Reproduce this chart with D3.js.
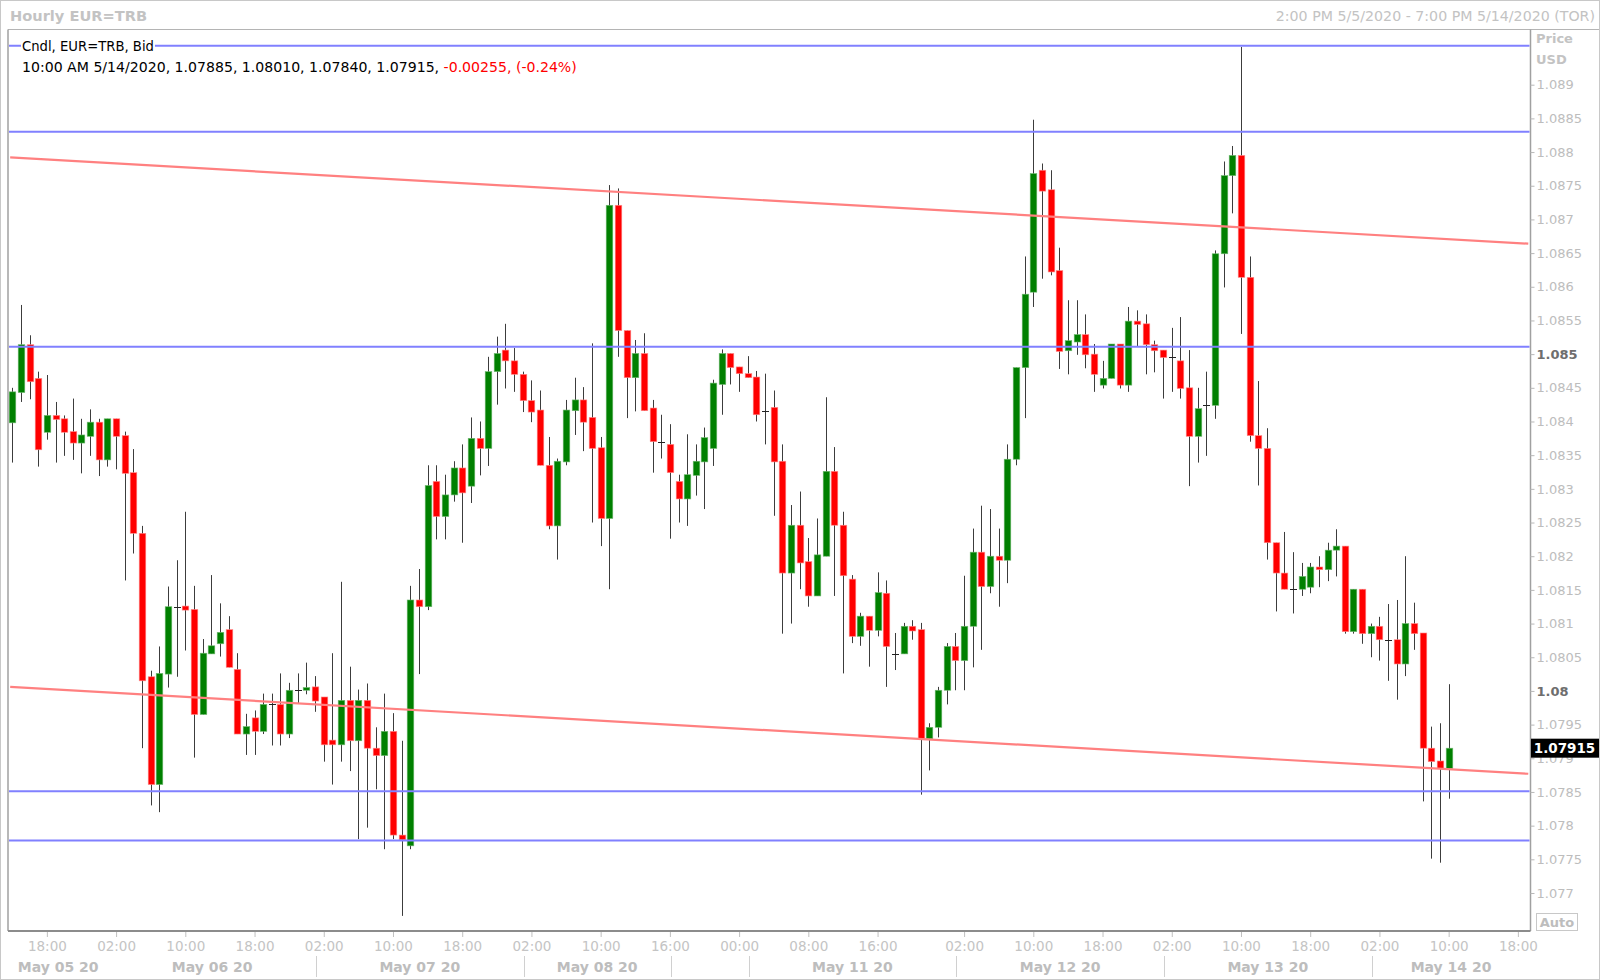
<!DOCTYPE html>
<html><head><meta charset="utf-8">
<script src="https://cdn.jsdelivr.net/npm/d3@7"></script>
<style>
body{margin:0;background:#fff}
svg{display:block}
text{font-family:"DejaVu Sans",Verdana,sans-serif}
</style>
</head><body>
<svg id="c" width="1600" height="980"></svg>
<script>
// ---- data (hourly bars, Toronto time, 5/5/2020 14:00 .. 5/14/2020 10:00) ----
const openP = [1.08398,1.08443,1.08514,1.08464,1.08384,1.08409,1.08404,1.08385,1.08368,1.08378,
1.08399,1.08343,1.08404,1.08379,1.08324,1.08234,1.08021,1.07861,1.08025,1.08125,
1.08126,1.08121,1.07965,1.08055,1.08070,1.08091,1.08032,1.07936,1.07960,1.07940,
1.07980,1.07980,1.07936,1.08001,1.08001,1.08006,1.07991,1.07927,1.07920,1.07986,
1.07926,1.07986,1.07915,1.07904,1.07940,1.07786,1.07770,1.08135,1.08125,1.08311,
1.08259,1.08291,1.08331,1.08304,1.08375,1.08360,1.08474,1.08506,1.08490,1.08470,
1.08431,1.08417,1.08335,1.08245,1.08340,1.08416,1.08432,1.08406,1.08361,1.08256,
1.08721,1.08535,1.08465,1.08501,1.08420,1.08370,1.08366,1.08311,1.08285,1.08320,
1.08340,1.08360,1.08455,1.08501,1.08481,1.08471,1.08466,1.08416,1.08421,1.08341,
1.08175,1.08246,1.08192,1.08141,1.08200,1.08326,1.08246,1.08166,1.08081,1.08111,
1.08090,1.08145,1.08055,1.08055,1.08096,1.08091,1.07929,1.07946,1.08001,1.08066,
1.08045,1.08096,1.08206,1.08155,1.08200,1.08194,1.08344,1.08480,1.08592,1.08773,
1.08744,1.08624,1.08505,1.08518,1.08529,1.08500,1.08454,1.08464,1.08515,1.08454,
1.08549,1.08545,1.08514,1.08506,1.08496,1.08490,1.08450,1.08378,1.08424,1.08424,
1.08649,1.08765,1.08795,1.08614,1.08379,1.08360,1.08220,1.08175,1.08151,1.08151,
1.08154,1.08184,1.08180,1.08209,1.08215,1.08088,1.08151,1.08085,1.08096,1.08076,
1.08076,1.08040,1.08100,1.08086,1.07915,1.07896,1.07885];
const highP = [1.08450,1.08573,1.08528,1.08474,1.08469,1.08429,1.08409,1.08434,1.08404,1.08418,
1.08404,1.08404,1.08404,1.08385,1.08359,1.08245,1.08030,1.08066,1.08155,1.08194,
1.08266,1.08156,1.08077,1.08172,1.08130,1.08111,1.08056,1.07966,1.07971,1.07996,
1.07996,1.08026,1.08012,1.08026,1.08042,1.08022,1.07991,1.08056,1.08162,1.08036,
1.08002,1.08011,1.07946,1.07996,1.07967,1.07926,1.08156,1.08181,1.08335,1.08335,
1.08321,1.08341,1.08366,1.08406,1.08400,1.08496,1.08526,1.08545,1.08509,1.08474,
1.08461,1.08446,1.08377,1.08345,1.08432,1.08465,1.08451,1.08516,1.08377,1.08751,
1.08746,1.08535,1.08521,1.08531,1.08432,1.08410,1.08396,1.08321,1.08381,1.08366,
1.08391,1.08462,1.08507,1.08501,1.08481,1.08497,1.08475,1.08471,1.08446,1.08366,
1.08276,1.08296,1.08227,1.08256,1.08436,1.08362,1.08266,1.08172,1.08116,1.08111,
1.08176,1.08164,1.08086,1.08101,1.08105,1.08101,1.07952,1.08006,1.08071,1.08086,
1.08171,1.08241,1.08275,1.08270,1.08241,1.08366,1.08480,1.08645,1.08848,1.08783,
1.08773,1.08658,1.08580,1.08580,1.08559,1.08515,1.08490,1.08515,1.08515,1.08570,
1.08565,1.08559,1.08520,1.08506,1.08539,1.08555,1.08506,1.08450,1.08474,1.08654,
1.08786,1.08809,1.08956,1.08645,1.08460,1.08390,1.08220,1.08236,1.08206,1.08190,
1.08190,1.08200,1.08220,1.08240,1.08215,1.08151,1.08151,1.08100,1.08110,1.08129,
1.08135,1.08200,1.08131,1.08086,1.07947,1.07952,1.08010];
const lowP = [1.08339,1.08429,1.08433,1.08333,1.08373,1.08339,1.08349,1.08343,1.08323,1.08349,
1.08319,1.08333,1.08329,1.08164,1.08204,1.07915,1.07830,1.07820,1.08005,1.08021,
1.08060,1.07901,1.07965,1.08055,1.08051,1.08035,1.07936,1.07905,1.07905,1.07936,
1.07919,1.07919,1.07930,1.07981,1.07995,1.07969,1.07895,1.07861,1.07895,1.07881,
1.07780,1.07797,1.07854,1.07765,1.07780,1.07666,1.07765,1.08025,1.08120,1.08225,
1.08225,1.08281,1.08220,1.08279,1.08320,1.08334,1.08425,1.08449,1.08444,1.08414,
1.08399,1.08335,1.08240,1.08195,1.08335,1.08380,1.08356,1.08250,1.08215,1.08151,
1.08496,1.08405,1.08415,1.08416,1.08324,1.08345,1.08226,1.08250,1.08245,1.08290,
1.08270,1.08334,1.08410,1.08455,1.08444,1.08465,1.08400,1.08366,1.08260,1.08085,
1.08100,1.08151,1.08125,1.08141,1.08200,1.08141,1.08026,1.08071,1.08067,1.08036,
1.08081,1.08006,1.08031,1.08055,1.08076,1.07846,1.07882,1.07931,1.07980,1.08001,
1.08001,1.08035,1.08061,1.08145,1.08125,1.08160,1.08335,1.08405,1.08570,1.08612,
1.08617,1.08478,1.08470,1.08499,1.08479,1.08444,1.08449,1.08464,1.08449,1.08444,
1.08512,1.08470,1.08473,1.08434,1.08444,1.08434,1.08304,1.08339,1.08349,1.08404,
1.08599,1.08709,1.08530,1.08370,1.08305,1.08195,1.08118,1.08151,1.08115,1.08141,
1.08145,1.08154,1.08163,1.08170,1.08085,1.08085,1.08070,1.08050,1.08045,1.08015,
1.07987,1.08022,1.08061,1.07836,1.07751,1.07745,1.07840];
const closeP = [1.08444,1.08514,1.08459,1.08358,1.08409,1.08403,1.08384,1.08368,1.08380,1.08399,
1.08343,1.08404,1.08378,1.08323,1.08234,1.08015,1.07861,1.08026,1.08125,1.08125,
1.08120,1.07965,1.08056,1.08067,1.08087,1.08035,1.07936,1.07947,1.07940,1.07980,
1.07980,1.07936,1.08001,1.08001,1.08005,1.07985,1.07920,1.07920,1.07986,1.07926,
1.07986,1.07915,1.07904,1.07940,1.07786,1.07779,1.08135,1.08125,1.08305,1.08259,
1.08291,1.08331,1.08294,1.08375,1.08360,1.08474,1.08501,1.08490,1.08470,1.08431,
1.08414,1.08335,1.08245,1.08341,1.08417,1.08432,1.08399,1.08360,1.08256,1.08721,
1.08535,1.08465,1.08501,1.08416,1.08370,1.08370,1.08324,1.08285,1.08321,1.08341,
1.08376,1.08457,1.08501,1.08480,1.08471,1.08465,1.08410,1.08416,1.08340,1.08175,
1.08246,1.08190,1.08141,1.08202,1.08326,1.08246,1.08171,1.08081,1.08111,1.08090,
1.08146,1.08066,1.08055,1.08096,1.08089,1.07929,1.07946,1.08001,1.08066,1.08045,
1.08096,1.08206,1.08155,1.08200,1.08194,1.08344,1.08480,1.08589,1.08768,1.08742,
1.08622,1.08504,1.08520,1.08529,1.08499,1.08470,1.08464,1.08515,1.08454,1.08549,
1.08544,1.08514,1.08505,1.08495,1.08496,1.08449,1.08378,1.08419,1.08424,1.08649,
1.08765,1.08795,1.08614,1.08379,1.08360,1.08220,1.08175,1.08151,1.08151,1.08170,
1.08184,1.08180,1.08209,1.08215,1.08088,1.08151,1.08085,1.08096,1.08076,1.08076,
1.08040,1.08100,1.08085,1.07915,1.07895,1.07885,1.07915];

const timeTickIdx = [4,12,20,28,36,44,52,60,68,76,84,92,100,110,118,126,134,142,150,158,166,174];
const timeTickLabels = ["18:00","02:00","10:00","18:00","02:00","10:00","18:00","02:00","10:00","16:00","00:00","08:00","16:00","02:00","10:00","18:00","02:00","10:00","18:00","02:00","10:00","18:00"];
const sessionFirstIdx = [10,34,58,75,84,108,132,156];
const dayLabels = ["May 05 20","May 06 20","May 07 20","May 08 20","","May 11 20","May 12 20","May 13 20","May 14 20"];
const priceTickLabels = ["1.077","1.0775","1.078","1.0785","1.079","1.0795","1.08","1.0805","1.081","1.0815","1.082","1.0825","1.083","1.0835","1.084","1.0845","1.085","1.0855","1.086","1.0865","1.087","1.0875","1.088","1.0885","1.089"];
const boldPriceLabels = ["1.085","1.08"];
const hLines = [1.08958,1.08830,1.08511,1.07851,1.07778];
const trendStart = [-0.24,-0.24];
const trendEnd = [175.2,175.2];
const trendStartP = [1.08792,1.08006];
const trendEndP = [1.08664,1.07877];
const lastPrice = "1.07915";

// ---- layout ----
const W = 1600, H = 980;
const PL = 8, PR = 1530.5, PT = 29.5, PB = 931;
const svg = d3.select("#c");
const x = d3.scaleLinear().domain([0, 174]).range([12.25, 12.25 + 174 * 8.653]);
const y = d3.scaleLinear().domain([1.077, 1.089]).range([893, 84.7]);

svg.append("rect").attr("x",0.5).attr("y",0.5).attr("width",W-1).attr("height",H-1)
  .attr("fill","#fff").attr("stroke","#c8c8c8");

// header
svg.append("text").attr("x",10).attr("y",20.5).attr("font-size",14.6).attr("font-weight","bold")
  .attr("fill","#c3c3c3").text("Hourly EUR=TRB");
svg.append("text").attr("x",1595).attr("y",20.5).attr("font-size",14.2).attr("text-anchor","end")
  .attr("fill","#c3c3c3").text("2:00 PM 5/5/2020 - 7:00 PM 5/14/2020 (TOR)");

// plot frame
svg.append("line").attr("x1",PL).attr("x2",W-1).attr("y1",PT).attr("y2",PT).attr("stroke","#b4b4b4");
svg.append("line").attr("x1",PL).attr("x2",PL).attr("y1",PT).attr("y2",PB).attr("stroke","#a0a0a0").attr("stroke-width",1.5);
svg.append("line").attr("x1",PR).attr("x2",PR).attr("y1",PT).attr("y2",PB).attr("stroke","#a0a0a0").attr("stroke-width",1.5);
svg.append("line").attr("x1",PL).attr("x2",PR).attr("y1",PB).attr("y2",PB).attr("stroke","#8c8c8c").attr("stroke-width",2);

const plot = svg.append("g");
svg.append("clipPath").attr("id","clip").append("rect").attr("x",PL+1).attr("y",PT+1).attr("width",PR-PL-2).attr("height",PB-PT-2);
plot.attr("clip-path","url(#clip)");

// candles
const idx = d3.range(openP.length);
const bw = 6.6;
const cg = plot.append("g");
idx.forEach(i => {
  const o = openP[i], c = closeP[i], h = highP[i], l = lowP[i];
  const cx = Math.round(x(i)) + 0.5;
  cg.append("line").attr("x1",cx).attr("x2",cx).attr("y1",y(h)).attr("y2",y(l))
    .attr("stroke","#3c3c3c").attr("stroke-width",1);
  if (Math.abs(o - c) < 0.00002) {
    cg.append("line").attr("x1",cx-3.5).attr("x2",cx+3.5).attr("y1",Math.round(y(o))+0.5).attr("y2",Math.round(y(o))+0.5)
      .attr("stroke","#222").attr("stroke-width",1);
  } else {
    const up = c > o;
    const yt = y(Math.max(o,c)), yb = y(Math.min(o,c));
    cg.append("rect").attr("x",cx-bw/2).attr("y",yt).attr("width",bw).attr("height",Math.max(2,yb-yt))
      .attr("fill", up ? "#008000" : "#ff0000")
      .attr("stroke", up ? "#6fb86f" : "#ff8a8a").attr("stroke-width",0.6);
  }
});

// horizontal and trend lines
hLines.forEach(p => {
  plot.append("line").attr("x1",PL).attr("x2",PR).attr("y1",y(p)).attr("y2",y(p))
    .attr("stroke","#8080ff").attr("stroke-width",2);
});
trendStart.forEach((s,k) => {
  plot.append("line").attr("x1",x(s)).attr("x2",x(trendEnd[k])).attr("y1",y(trendStartP[k])).attr("y2",y(trendEndP[k]))
    .attr("stroke","#ff8080").attr("stroke-width",2.2);
});

// legend
const lg = svg.append("g");
const t1 = lg.append("text").attr("x",22).attr("y",50.5).attr("font-size",13.2).attr("fill","#000").text("Cndl, EUR=TRB, Bid");
const t1w = t1.node().getComputedTextLength();
lg.insert("rect","text").attr("x",21).attr("y",38).attr("width",t1w+2).attr("height",15).attr("fill","#fff");
const t2 = lg.append("text").attr("x",22).attr("y",72).attr("font-size",14.1).attr("fill","#000");
t2.append("tspan").text("10:00 AM 5/14/2020, " + [openP,highP,lowP,closeP].map(a => a[a.length-1].toFixed(5)).join(", ") + ", ");
t2.append("tspan").attr("fill","#ff0000").text("-0.00255, (-0.24%)");

// right axis
const ra = svg.append("g").attr("transform",`translate(${PR},0)`)
  .call(d3.axisRight(y).tickValues(priceTickLabels.map(Number)).tickSize(4)
    .tickFormat((d,i) => priceTickLabels[i]));
ra.select(".domain").remove();
ra.selectAll(".tick line").attr("stroke","#b8b8b8");
ra.selectAll(".tick text").attr("x",6).attr("font-size",13).attr("font-family","DejaVu Sans, sans-serif")
  .attr("fill",(d,i)=> boldPriceLabels.includes(priceTickLabels[i]) ? "#6e6e6e" : "#bdbdbd")
  .attr("font-weight",(d,i)=> boldPriceLabels.includes(priceTickLabels[i]) ? "bold" : "normal");
svg.append("text").attr("x",1536).attr("y",43).attr("font-size",13).attr("font-weight","bold").attr("fill","#c3c3c3").text("Price");
svg.append("text").attr("x",1536).attr("y",64).attr("font-size",13).attr("font-weight","bold").attr("fill","#c3c3c3").text("USD");
// Auto box
svg.append("rect").attr("x",1536.5).attr("y",913.5).attr("width",41).attr("height",17).attr("fill","#fff").attr("stroke","#c8c8c8");
svg.append("text").attr("x",1557).attr("y",927).attr("font-size",13).attr("font-weight","bold").attr("text-anchor","middle").attr("fill","#bdbdbd").text("Auto");
// last price box
const ly = y(+lastPrice);
svg.append("rect").attr("x",PR+0.5).attr("y",ly-9.5).attr("width",68).attr("height",19).attr("fill","#000");
svg.append("text").attr("x",PR+34).attr("y",ly+5).attr("font-size",13.5).attr("font-weight","bold").attr("text-anchor","middle").attr("fill","#fff").text(lastPrice);

// bottom axis
const ba = svg.append("g").attr("transform",`translate(0,${PB+1})`)
  .call(d3.axisBottom(x).tickValues(timeTickIdx).tickSize(5).tickFormat((d,i)=>timeTickLabels[i]));
ba.select(".domain").remove();
ba.selectAll(".tick line").attr("stroke","#c0c0c0");
ba.selectAll(".tick text").attr("y",9).attr("font-size",13.5).attr("font-family","DejaVu Sans, sans-serif").attr("fill","#c4c4c4");

// day separators & labels
const sepX = sessionFirstIdx.map(i => x(i + 1.1));
sepX.forEach((sx,k) => {
  if (k === 0) return;
  svg.append("line").attr("x1",Math.round(sx)+0.5).attr("x2",Math.round(sx)+0.5).attr("y1",956).attr("y2",977).attr("stroke","#d0d0d0");
});
const bounds = [PL].concat(sepX).concat([PR]);
dayLabels.forEach((lab,k) => {
  if (!lab) return;
  svg.append("text").attr("x",(bounds[k]+bounds[k+1])/2).attr("y",972).attr("font-size",14).attr("font-weight","bold")
    .attr("text-anchor","middle").attr("fill","#bdbdbd").text(lab);
});
</script>
</body></html>
